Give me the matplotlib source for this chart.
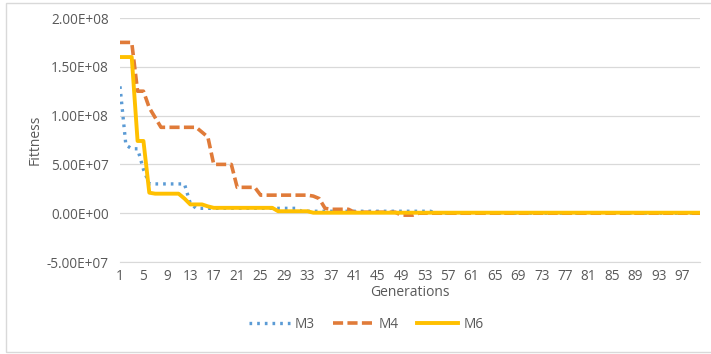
import numpy as np
import matplotlib
matplotlib.use("Agg")
import matplotlib.pyplot as plt
from matplotlib.patches import Rectangle

plt.rcParams['font.family'] = ['Open Sans', 'DejaVu Sans']

generations = list(range(1, 101))

# values (fitness per generation)
m3 = ([1.30e8, 7.0e7, 6.6e7, 6.6e7, 4.5e7] + [3.0e7] * 7 + [1.0e7]
      + [0.5e7] * 18 + [0.2e7] * 23 + [0.0] * 46)
m4 = ([1.75e8] * 3 + [1.25e8] * 2 + [1.08e8, 9.8e7] + [8.8e7] * 7
      + [8.3e7, 7.8e7] + [5.0e7] * 4 + [2.65e7] * 4 + [1.85e7] * 9
      + [1.75e7, 1.5e7, 0.5e7] + [0.4e7] * 4 + [0.1e7] * 8
      + [-0.2e7] * 3 + [0.0] * 49)
m6 = ([1.60e8] * 3 + [7.4e7] * 2 + [2.1e7] + [2.0e7] * 5 + [1.5e7]
      + [0.9e7] * 3 + [0.7e7] + [0.55e7] * 11 + [0.2e7] * 6
      + [0.05e7] * 67)

fig = plt.figure(figsize=(7.11, 3.54), dpi=100)
fig.patches.append(Rectangle((6 / 711, 2 / 354), 1.0, 349 / 354,
                             transform=fig.transFigure, fill=False,
                             edgecolor='#d9d9d9', linewidth=1.0))
ax = fig.add_axes([120 / 711, 1 - 262 / 354, 580 / 711, 244 / 354])

ax.plot(generations, m3, color='#5b9bd5', linestyle=(0, (0.8, 1.5)),
        linewidth=2.4, label='M3')
ax.plot(generations, m4, color='#e07b39', linestyle=(0, (2.8, 1.2)),
        linewidth=2.6, label='M4')
ax.plot(generations, m6, color='#ffc000', linestyle='-',
        linewidth=2.8, label='M6')

ax.set_xlim(1, 100)
ax.set_ylim(-5e7, 2e8)
ax.set_yticks(np.arange(-5e7, 2.01e8, 5e7))
ax.set_yticklabels(['%.2E' % v for v in np.arange(-5e7, 2.01e8, 5e7)])
ax.set_xticks(range(1, 100, 4))
ax.grid(axis='y', color='#d9d9d9', linewidth=0.9)
ax.set_axisbelow(True)
for s in ['top', 'right', 'left']:
    ax.spines[s].set_visible(False)
ax.spines['bottom'].set_color('#d9d9d9')
ax.tick_params(length=0, colors='#595959', labelsize=9.8)
ax.tick_params(axis='y', pad=8)
ax.tick_params(axis='x', pad=5)

ax.set_xlabel('Generations', color='#595959', fontsize=10, labelpad=1)
ax.set_ylabel('Fittness', color='#595959', fontsize=10, labelpad=3)

fig.legend(loc='center', bbox_to_anchor=(366 / 711, 1 - 324 / 354), ncol=3,
           frameon=False, fontsize=9.8, labelcolor='#595959',
           handlelength=3.0, columnspacing=1.3, handletextpad=0.4)

fig.savefig('out.png', dpi=100)
